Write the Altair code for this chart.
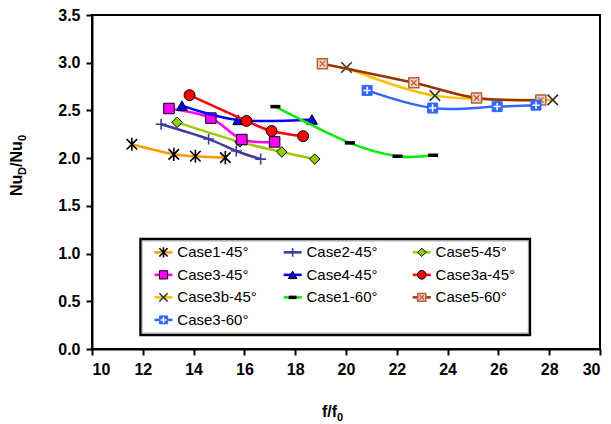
import altair as alt
import pandas as pd

# ---- data: f/f0 (x) and NuD/Nu0 (y) for every case ----
series_names = ["Case1-45°", "Case2-45°", "Case5-45°",
                "Case3-45°", "Case4-45°", "Case3a-45°",
                "Case3b-45°", "Case1-60°", "Case5-60°",
                "Case3-60°"]

case1_45_x = [11.57, 13.22, 14.07, 15.25]
case1_45_y = [2.145, 2.04, 2.02, 2.005]
case2_45_x = [12.72, 14.59, 15.68, 16.64]
case2_45_y = [2.355, 2.20, 2.075, 1.99]
case5_45_x = [13.35, 15.82, 17.47, 18.77]
case5_45_y = [2.375, 2.17, 2.065, 1.99]
case3_45_x = [13.03, 14.68, 15.90, 17.19]
case3_45_y = [2.52, 2.42, 2.195, 2.17]
case4_45_x = [13.54, 15.76, 18.66]
case4_45_y = [2.55, 2.40, 2.405]
case3a_45_x = [13.84, 16.08, 17.07, 18.31]
case3a_45_y = [2.66, 2.39, 2.285, 2.23]
case3b_45_x = [20.02, 23.50, 28.14]
case3b_45_y = [2.95, 2.655, 2.61]
case1_60_x = [17.22, 20.15, 22.03, 23.43]
case1_60_y = [2.54, 2.16, 2.02, 2.03]
case5_60_x = [19.07, 22.67, 25.14, 27.67]
case5_60_y = [2.99, 2.79, 2.63, 2.61]
case3_60_x = [20.83, 23.41, 25.95, 27.48]
case3_60_y = [2.71, 2.525, 2.54, 2.555]

x_ticks = [10, 12, 14, 16, 18, 20, 22, 24, 26, 28, 30]
y_ticks = [0.0, 0.5, 1.0, 1.5, 2.0, 2.5, 3.0, 3.5]

series_x = [case1_45_x, case2_45_x, case5_45_x, case3_45_x, case4_45_x,
            case3a_45_x, case3b_45_x, case1_60_x, case5_60_x, case3_60_x]
series_y = [case1_45_y, case2_45_y, case5_45_y, case3_45_y, case4_45_y,
            case3a_45_y, case3b_45_y, case1_60_y, case5_60_y, case3_60_y]

# ---- marker shapes (unit-square SVG paths) ----
ASTERISK = "M-1,-1L1,1M-1,1L1,-1M0,-1.25L0,1.25"
PLUS = "M-1,0L1,0M0,-1L0,1"
XMARK = "M-1,-1L1,1M-1,1L1,-1"
DASH = "M-1,0L1,0"

# line colour, then marker layers drawn in order
styles = [
    ("#FF9900", [dict(shape=ASTERISK, filled=False, color="black", strokeWidth=1.6, size=110)]),
    ("#3D3D99", [dict(shape=PLUS, filled=False, color="#3D3D99", strokeWidth=1.6, size=120)]),
    ("#99CC00", [dict(shape="diamond", filled=True, fill="#99CC00", stroke="black", strokeWidth=1, size=110)]),
    ("#FF00FF", [dict(shape="square", filled=True, fill="#FF00FF", stroke="black", strokeWidth=1, size=110)]),
    ("#0000FF", [dict(shape="triangle-up", filled=True, fill="#0000FF", stroke="black", strokeWidth=1, size=120)]),
    ("#FF0000", [dict(shape="circle", filled=True, fill="#FF0000", stroke="black", strokeWidth=1, size=120)]),
    ("#FFC000", [dict(shape=XMARK, filled=False, color="#333333", strokeWidth=1.6, size=110)]),
    ("#00EE00", [dict(shape=DASH, filled=False, color="black", strokeWidth=3.5, size=100)]),
    ("#993300", [dict(shape="square", filled=True, fill="#F6D2BE", stroke="#B5603A", strokeWidth=1.5, size=100),
                 dict(shape=XMARK, filled=False, color="#B5603A", strokeWidth=1.2, size=30)]),
    ("#3366FF", [dict(shape="square", filled=True, fill="#3366FF", stroke="#3366FF", strokeWidth=1, size=100),
                 dict(shape=PLUS, filled=False, color="white", strokeWidth=1.5, size=55)]),
]

FONT = "Liberation Sans"

x_scale = alt.Scale(domain=[10, 30], nice=False, zero=False)
y_scale = alt.Scale(domain=[0, 3.5], nice=False, zero=False)

axis_common = dict(
    labelFont=FONT, labelFontWeight="bold", labelFontSize=16, labelColor="black",
    domainColor="black", domainWidth=2, tickColor="black", tickWidth=2, tickSize=6,
    grid=False, title=None,
)
x_axis = alt.Axis(values=x_ticks, format="d", labelPadding=6, **axis_common)
y_axis = alt.Axis(values=y_ticks, format=".1f", labelPadding=6, **axis_common)

layers = []

# legend frame (in data units of the plot)
box = pd.DataFrame({"x0": [11.91], "x1": [27.24], "y0": [0.147], "y1": [1.153]})
layers.append(
    alt.Chart(box).mark_rect(fill="white", stroke="black", strokeWidth=2.5).encode(
        x=alt.X("x0:Q", scale=x_scale, axis=x_axis), x2="x1:Q",
        y=alt.Y("y0:Q", scale=y_scale, axis=y_axis), y2="y1:Q")
)
inner = pd.DataFrame({"x0": [11.97], "x1": [27.18], "y0": [0.167], "y1": [1.133]})
layers.append(
    alt.Chart(inner).mark_rect(fill="white", stroke="#9a9a9a", strokeWidth=1).encode(
        x="x0:Q", x2="x1:Q", y="y0:Q", y2="y1:Q")
)

# legend grid: 3 columns, rows top to bottom
LEG_X0, LEG_DX = 12.46, 5.084
LEG_Y0, LEG_DY = 1.013, 0.236
LINE_LEN, TEXT_GAP = 0.71, 0.90

for i, (name, xs, ys, (lcolor, markers)) in enumerate(zip(series_names, series_x, series_y, styles)):
    df = pd.DataFrame({"x": xs, "y": ys, "order": range(len(xs))})
    layers.append(
        alt.Chart(df).mark_line(color=lcolor, strokeWidth=2.5, interpolate="cardinal").encode(
            x="x:Q", y="y:Q", order="order:O")
    )
    for m in markers:
        layers.append(
            alt.Chart(df).mark_point(opacity=1, **m).encode(x="x:Q", y="y:Q")
        )

    col, row = i % 3, i // 3
    lx = LEG_X0 + col * LEG_DX
    ly = LEG_Y0 - row * LEG_DY
    leg = pd.DataFrame({"x": [lx], "x2": [lx + LINE_LEN], "xm": [lx + LINE_LEN / 2],
                        "xt": [lx + TEXT_GAP], "y": [ly], "name": [name]})
    layers.append(
        alt.Chart(leg).mark_rule(color=lcolor, strokeWidth=2.5).encode(
            x="x:Q", x2="x2:Q", y="y:Q")
    )
    for m in markers:
        mm = dict(m)
        mm["size"] = m["size"] * 0.62
        layers.append(alt.Chart(leg).mark_point(opacity=1, **mm).encode(x="xm:Q", y="y:Q"))
    layers.append(
        alt.Chart(leg).mark_text(align="left", baseline="middle", font=FONT, fontSize=15,
                                 color="black").encode(x="xt:Q", y="y:Q", text="name:N")
    )

# axis titles with subscripts, built from pieces (pixel offsets from the plot origin)
title_pieces = [
    # text, x, y, size, angle, dx for subscript shift
    ("Nu", -70, 181, 16, 270),
    ("D", -66, 160, 11, 270),
    ("/Nu", -70, 152, 16, 270),
    ("0", -66, 126, 11, 270),
    ("f/f", 230, 402, 16, 0),
    ("0", 245, 406, 11, 0),
]
for t, px, py, fs, ang in title_pieces:
    layers.append(
        alt.Chart(pd.DataFrame({"t": [t]})).mark_text(
            align="left", baseline="alphabetic", font=FONT, fontWeight="bold",
            fontSize=fs, angle=ang, color="black").encode(
            x=alt.value(px), y=alt.value(py), text="t:N")
    )

chart = alt.layer(*layers).properties(
    width=508, height=334,
    padding={"left": 92, "top": 15, "right": 11, "bottom": 75},
    autosize=alt.AutoSizeParams(type="none"),
    background="white",
).configure_view(stroke="black", strokeWidth=2)

chart.save("out.html", embed_options={"renderer": "svg", "actions": False})
